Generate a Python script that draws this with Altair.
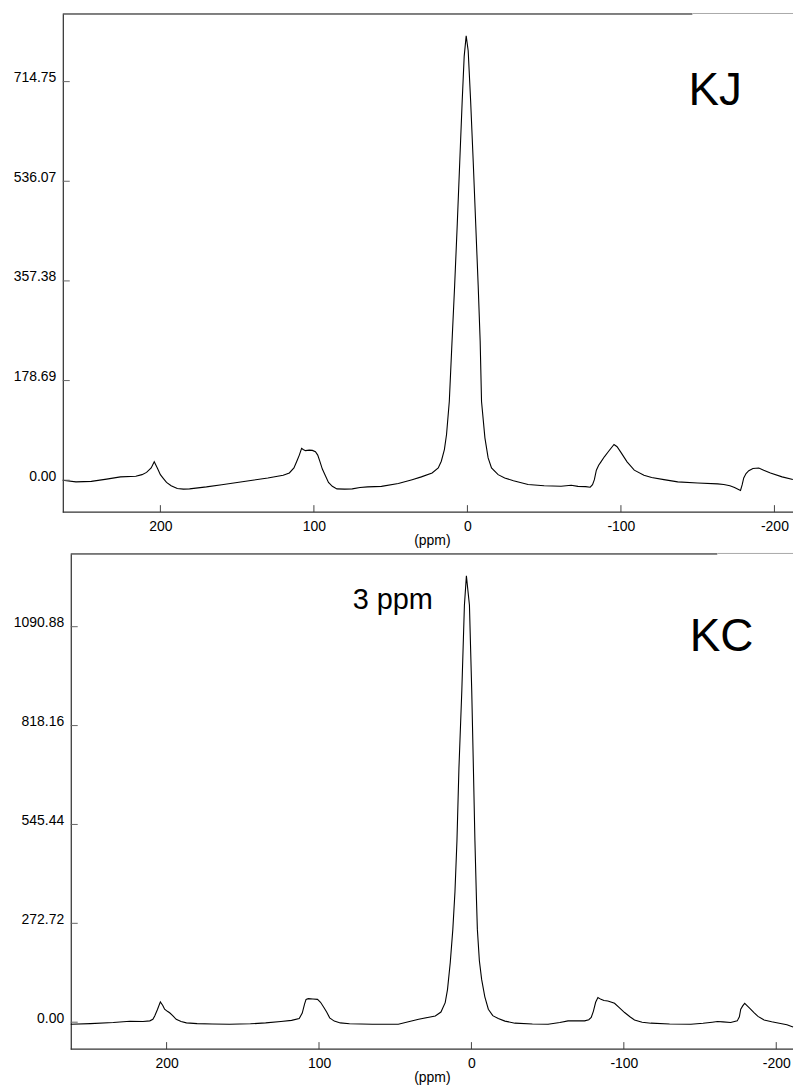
import altair as alt
import pandas as pd

# ---------------- data ----------------
# Top spectrum (KJ)
kj_ppm = [263.6, 255, 245, 235, 226, 216, 212, 209, 206, 204, 202, 200, 198, 196, 193, 189, 185, 181,
          170, 160, 150, 140, 130, 120, 116, 113, 111, 109.5, 108, 107, 105.5, 103, 101, 99, 97.5, 96,
          94.5, 92.5, 90.5, 88, 85, 80, 75, 70, 65, 56, 45, 36, 30, 23, 19, 17, 15, 13.6, 11.8, 10,
          8.3, 6.6, 5, 3.4, 2.1, 0.8, -0.5, -2.1, -3.8, -5.4, -7, -8.3, -9.2, -11.4, -13.5, -15.7,
          -20, -24.3, -30, -39.5, -50, -61, -67.6, -72, -77, -80, -81.5, -82.7, -84, -85.5, -87,
          -89.2, -92, -95.5, -97.5, -100, -104, -108.7, -115, -120, -128, -137, -150, -163, -167,
          -171, -174, -177.9, -179, -180, -181.5, -183.3, -186, -189.8, -193, -197.4, -205, -212]
kj_val = [0, -3, -2, 2, 6, 7, 10, 14, 22, 33, 22, 10, 3, -4, -10, -15, -16, -15.5,
          -12, -8, -4, 0, 4, 9, 13, 22, 35, 45, 57, 55, 53, 54, 53.5, 51, 45, 33,
          20, 8, -4, -11, -15.5, -16, -15.5, -13, -12, -11, -6, 1, 6, 13, 22, 34, 55, 82, 141, 250,
          350, 460, 570, 680, 760, 797, 770, 680, 570, 460, 350, 250, 141, 76, 40, 22,
          10, 4, -1, -7.7, -10, -10.7, -9, -11, -11.5, -12.5, -8, 1, 18, 27, 33,
          42, 52, 64, 60, 50, 33, 18, 9, 5, 1, -3, -5, -6.6, -7.7,
          -10, -13, -18.4, -8, 4, 12, 17, 21, 22, 18, 13, 6, 1.2]

# Bottom spectrum (KC)
kc_ppm = [262.9, 250, 235, 224, 215.5, 211, 209, 207.8, 206, 204.1, 202.5, 201.3, 199.5, 198, 196,
          193.7, 190.5, 187, 180, 170, 158.8, 145, 135, 125, 118, 113, 111, 109.5, 108.5, 107, 104,
          101, 99, 97, 95, 93, 90, 86, 80, 65, 48, 34.6, 23.7, 20, 17.2, 15.7, 13.9, 12.2, 10.8,
          9.5, 8.2, 6.3, 4.6, 3.3, 1.3, -0.2, -1.3, -2.3, -3.3, -3.9, -5.2, -6.7, -8.8, -11.1, -14,
          -17.6, -22, -28.6, -40, -50.3, -58, -63.4, -74.3, -77, -78.6, -80, -81.5, -83, -85, -87,
          -89.5, -92, -93.9, -97, -100.5, -104, -107, -112, -117.8, -130, -144, -152, -158, -161.4,
          -165, -170.1, -174.4, -175.8, -176.7, -178, -179.3, -181, -183, -185.4, -188, -192, -197,
          -202.8, -207, -211]
kc_val = [-5.5, -4, -1, 2.7, 2, 3.7, 8, 17, 35, 56, 46, 36, 30, 26, 18,
          8, 2, -1.8, -4, -5, -5.5, -4.5, -2, 2, 5, 10, 25, 50, 63, 65, 64,
          63, 55, 42, 28, 12, 3, -2, -4.5, -5.5, -5.5, 8, 17.3, 28, 54, 90, 164, 256, 360,
          500, 700, 915, 1150, 1231, 1150, 915, 700, 500, 340, 256, 170, 118, 70, 35.7, 18,
          10, 3, -2.7, -5, -5.5, -1, 3.6, 3.6, 7, 13, 30, 55, 68, 63, 60,
          58.6, 55, 52, 40, 26.6, 15, 6.3, 0, -2.7, -5, -5.5, -3, 0, 2,
          1, -1, 3.6, 15, 35.7, 45, 52, 45, 37, 26.6, 16, 6.3, 1,
          -3.6, -7, -13]

x_ticks = [200, 100, 0, -100, -200]
kj_yticks = [0.00, 178.69, 357.38, 536.07, 714.75]
kc_yticks = [0.00, 272.72, 545.44, 818.16, 1090.88]

kj_labels = ["KJ"]
kj_label_ppm = [-161.4]
kj_label_val = [673.7]

kc_labels = ["3 ppm", "KC"]
kc_label_ppm = [51.6, -164.1]
kc_label_val = [1140, 1025]
kc_label_size = [29, 46]

FONT = "Liberation Sans"
W = 725


def panel(ppm, val, yticks, xdom, ydom, h, yoff, black_end, lab_df):
    df = pd.DataFrame({"ppm": ppm, "val": val})
    xs = alt.Scale(domain=xdom, nice=False, zero=False)
    ys = alt.Scale(domain=ydom, nice=False, zero=False)
    dummy = pd.DataFrame({"a": [0]})
    xaxis = alt.Axis(values=x_ticks, labelExpr="'' + datum.value", title="(ppm)", ticks=False,
                     domain=False, grid=False, labelPadding=7, labelFontSize=14,
                     labelFont=FONT, labelColor="black", titleFont=FONT,
                     titleFontSize=14, titleFontWeight="normal", titlePadding=1,
                     titleColor="black")
    yaxis = alt.Axis(values=yticks, format=".2f", title=None, ticks=False,
                     domain=True, domainColor="black", domainWidth=1, grid=False,
                     labelPadding=7, labelFontSize=14, labelFont=FONT,
                     labelColor="black", labelBaseline="alphabetic", offset=yoff)

    def X():
        return alt.X("ppm:Q", scale=xs, axis=xaxis)

    def Y():
        return alt.Y("val:Q", scale=ys, axis=yaxis)

    line = alt.Chart(df).mark_line(color="black", strokeWidth=1.1).encode(x=X(), y=Y())
    xt = alt.Chart(pd.DataFrame({"ppm": x_ticks})).mark_rule(color="#444", strokeWidth=1).encode(
        x=X(), y=alt.value(h - 7), y2=alt.value(h),
    )
    yt = alt.Chart(pd.DataFrame({"val": yticks})).mark_rule(color="#666", strokeWidth=1).encode(
        y=Y(), x=alt.value(-yoff), x2=alt.value(-yoff + 7),
    )
    top_line = alt.Chart(dummy).mark_rule(color="black", strokeWidth=1).encode(
        x=alt.value(-yoff), x2=alt.value(black_end), y=alt.value(0))
    top_line_grey = alt.Chart(dummy).mark_rule(color="#aaa", strokeWidth=1).encode(
        x=alt.value(black_end), x2=alt.value(W), y=alt.value(-0.5))
    bot_line = alt.Chart(dummy).mark_rule(color="#333", strokeWidth=1.2).encode(
        x=alt.value(-yoff), x2=alt.value(W), y=alt.value(h))
    txt = alt.Chart(lab_df).mark_text(font=FONT, color="black", align="center",
                                      baseline="alphabetic").encode(
        x=X(), y=Y(),
        text="label:N",
        size=alt.Size("size:Q", scale=None, legend=None),
    )
    return alt.layer(line, xt, yt, txt, top_line, top_line_grey, bot_line).properties(
        width=W, height=h)


kj_lab = pd.DataFrame({"label": kj_labels, "ppm": kj_label_ppm, "val": kj_label_val, "size": [46]})
kc_lab = pd.DataFrame({"label": kc_labels, "ppm": kc_label_ppm, "val": kc_label_val,
                       "size": kc_label_size})

top = panel(kj_ppm, kj_val, kj_yticks, [258.4, -212.1], [-57.2, 836.0], 500, 8, 624, kj_lab)
bottom = panel(kc_ppm, kc_val, kc_yticks, [262.9, -211.0], [-74.2, 1291.5], 497, 0, 649, kc_lab)

chart = alt.vconcat(top, bottom, spacing=42, bounds="flush").properties(
    autosize=alt.AutoSizeParams(type="pad"),
    padding={"left": 13, "top": 11, "right": 0, "bottom": 0},
    background="white",
).configure_view(stroke=None)

chart.save("out.html", embed_options={"renderer": "svg", "actions": False})
